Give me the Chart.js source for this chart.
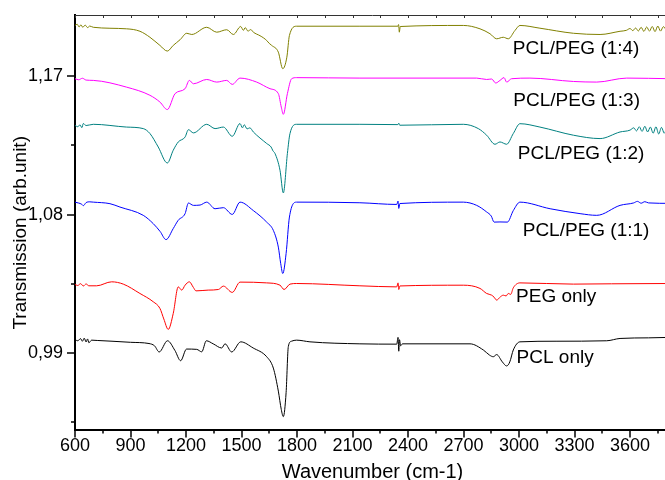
<!DOCTYPE html>
<html>
<head>
<meta charset="utf-8">
<script src="https://cdn.jsdelivr.net/npm/chart.js@4/dist/chart.umd.min.js"></script>
<style>
  body { margin: 0; background: #fff; overflow: hidden; }
  canvas { display: block; }
</style>
</head>
<body>
<canvas id="ftir" width="670" height="480"></canvas>
<script>
// axis ticks
const xTickValues = [600, 900, 1200, 1500, 1800, 2100, 2400, 2700, 3000, 3300, 3600];
const xTickLabels = ['600', '900', '1200', '1500', '1800', '2100', '2400', '2700', '3000', '3300', '3600'];
const xMinorTicks = [750, 1050, 1350, 1650, 1950, 2250, 2550, 2850, 3150, 3450, 3750];
const yTickValues = [0.99, 1.08, 1.17];
const yTickLabels = ['0,99', '1,08', '1,17'];
const yMinorTicks = [0.945, 1.035, 1.125];

// series names
const seriesNames = ['PCL only', 'PEG only', 'PCL/PEG (1:1)', 'PCL/PEG (1:2)', 'PCL/PEG (1:3)', 'PCL/PEG (1:4)'];

// PCL only
const pclWave = [600, 615, 630, 640, 650, 660, 668, 675, 690, 720,
  800, 900, 1000, 1030, 1055, 1100, 1140, 1171, 1203, 1258,
  1285, 1310, 1347, 1393, 1411, 1447, 1496, 1563, 1636, 1672,
  1699, 1715, 1726, 1741, 1753, 1770, 1798, 1870, 2140, 2339,
  2346, 2350, 2354, 2360, 2370, 2735, 2807, 2840, 2861, 2879,
  2910, 2933, 2950, 2969, 3005, 3200, 3474, 3546, 3700, 3816];
const pclT = [0.9985, 0.9978, 0.9992, 0.9975, 0.9995, 0.9970, 0.9990, 0.9965, 0.9982, 0.9980,
  0.9975, 0.9968, 0.9960, 0.9945, 0.9905, 0.9978, 0.9915, 0.9848, 0.9924, 0.9922,
  0.9906, 0.9978, 0.9958, 0.9931, 0.9958, 0.9905, 0.9971, 0.9931, 0.9874, 0.9800,
  0.9650, 0.9530, 0.9484, 0.9640, 0.9940, 0.9975, 0.9982, 0.9971, 0.9958, 0.9956,
  1.0000, 0.9910, 0.9985, 0.9945, 0.9958, 0.9958, 0.9918, 0.9885, 0.9874, 0.9888,
  0.9840, 0.9814, 0.9840, 0.9918, 0.9971, 0.9975, 0.9978, 0.9993, 0.9997, 1.0000];

// PEG only
const pegWave = [600, 615, 630, 645, 660, 675, 717, 798, 861, 951,
  1023, 1059, 1080, 1104, 1131, 1158, 1177, 1195, 1218, 1240,
  1254, 1320, 1375, 1402, 1450, 1492, 1636, 1708, 1730, 1762,
  1798, 2140, 2339, 2346, 2350, 2356, 2699, 2789, 2825, 2852,
  2865, 2879, 2900, 2915, 2930, 2942, 2955, 2969, 3005, 3294,
  3500, 3816];
const pegT = [1.0345, 1.0338, 1.0350, 1.0335, 1.0348, 1.0336, 1.0336, 1.0362, 1.0347, 1.0286,
  1.0232, 1.0189, 1.0120, 1.0052, 1.0156, 1.0329, 1.0308, 1.0340, 1.0362, 1.0325,
  1.0303, 1.0308, 1.0312, 1.0334, 1.0293, 1.0360, 1.0355, 1.0340, 1.0312, 1.0347,
  1.0351, 1.0336, 1.0329, 1.0355, 1.0312, 1.0335, 1.0340, 1.0319, 1.0286, 1.0275,
  1.0262, 1.0243, 1.0265, 1.0275, 1.0270, 1.0286, 1.0280, 1.0323, 1.0355, 1.0347,
  1.0349, 1.0351];

// PCL/PEG (1:1)
const r11Wave = [600, 620, 635, 645, 660, 680, 699, 789, 843, 969,
  1023, 1060, 1092, 1131, 1158, 1195, 1213, 1240, 1276, 1312,
  1357, 1402, 1450, 1492, 1564, 1636, 1672, 1699, 1712, 1723,
  1741, 1759, 1798, 2140, 2339, 2346, 2350, 2356, 2699, 2771,
  2825, 2850, 2865, 2897, 2937, 2969, 3005, 3168, 3330, 3420,
  3546, 3620, 3640, 3660, 3680, 3700, 3816];
const r11T = [1.0881, 1.0875, 1.0868, 1.0858, 1.0878, 1.0883, 1.0881, 1.0871, 1.0849, 1.0795,
  1.0741, 1.0690, 1.0637, 1.0709, 1.0763, 1.0806, 1.0875, 1.0860, 1.0862, 1.0881,
  1.0838, 1.0845, 1.0801, 1.0881, 1.0826, 1.0751, 1.0697, 1.0588, 1.0480, 1.0416,
  1.0546, 1.0784, 1.0881, 1.0877, 1.0866, 1.0888, 1.0840, 1.0872, 1.0881, 1.0860,
  1.0817, 1.0790, 1.0751, 1.0752, 1.0751, 1.0826, 1.0881, 1.0838, 1.0806, 1.0795,
  1.0860, 1.0876, 1.0886, 1.0874, 1.0884, 1.0876, 1.0873];

// PCL/PEG (1:2)
const r12Wave = [600, 615, 627, 637, 645, 660, 699, 879, 969, 1005,
  1050, 1099, 1131, 1158, 1195, 1213, 1240, 1312, 1357, 1402,
  1450, 1492, 1505, 1515, 1530, 1545, 1564, 1636, 1660, 1670,
  1681, 1708, 1726, 1748, 1762, 1798, 2140, 2345, 2350, 2355,
  2699, 2780, 2825, 2870, 2897, 2933, 2969, 3005, 3113, 3294,
  3438, 3546, 3600, 3620, 3635, 3650, 3665, 3680, 3695, 3710,
  3725, 3740, 3755, 3770, 3785, 3800, 3816];
const r12T = [1.1381, 1.1372, 1.1385, 1.1366, 1.1393, 1.1380, 1.1388, 1.1370, 1.1360, 1.1328,
  1.1240, 1.1136, 1.1219, 1.1273, 1.1305, 1.1353, 1.1332, 1.1388, 1.1360, 1.1370,
  1.1310, 1.1393, 1.1365, 1.1385, 1.1358, 1.1365, 1.1338, 1.1263, 1.1240, 1.1215,
  1.1198, 1.1089, 1.0941, 1.1198, 1.1328, 1.1388, 1.1388, 1.1386, 1.1395, 1.1382,
  1.1388, 1.1360, 1.1317, 1.1258, 1.1273, 1.1258, 1.1328, 1.1392, 1.1370, 1.1317,
  1.1295, 1.1338, 1.1350, 1.1365, 1.1345, 1.1372, 1.1342, 1.1375, 1.1338, 1.1370,
  1.1330, 1.1372, 1.1325, 1.1368, 1.1330, 1.1360, 1.1345];

// PCL/PEG (1:3)
const r13Wave = [600, 620, 640, 660, 699, 879, 1005, 1059, 1099, 1141,
  1195, 1218, 1240, 1312, 1366, 1420, 1450, 1492, 1582, 1654,
  1699, 1715, 1726, 1748, 1771, 1798, 2140, 2771, 2825, 2852,
  2874, 2897, 2919, 2933, 2960, 3059, 3294, 3420, 3582, 3816];
const r13T = [1.1685, 1.1678, 1.1688, 1.1676, 1.1674, 1.1630, 1.1577, 1.1533, 1.1484, 1.1588,
  1.1620, 1.1674, 1.1652, 1.1680, 1.1663, 1.1674, 1.1648, 1.1689, 1.1663, 1.1620,
  1.1588, 1.1500, 1.1453, 1.1588, 1.1685, 1.1692, 1.1689, 1.1689, 1.1680, 1.1683,
  1.1657, 1.1674, 1.1692, 1.1663, 1.1685, 1.1689, 1.1667, 1.1663, 1.1689, 1.1685];

// PCL/PEG (1:4)
const r14Wave = [600, 612, 622, 632, 642, 655, 668, 680, 699, 879,
  951, 1005, 1059, 1099, 1131, 1168, 1204, 1231, 1312, 1366,
  1420, 1456, 1496, 1510, 1520, 1535, 1550, 1564, 1600, 1620,
  1636, 1650, 1663, 1699, 1723, 1745, 1759, 1798, 2140, 2345,
  2349, 2353, 2358, 2699, 2789, 2843, 2879, 2915, 2942, 2978,
  3005, 3113, 3294, 3438, 3546, 3580, 3600, 3615, 3630, 3645,
  3660, 3675, 3690, 3705, 3720, 3735, 3750, 3765, 3780, 3800,
  3816];
const r14T = [1.2032, 1.2040, 1.2022, 1.2036, 1.2020, 1.2034, 1.2018, 1.2028, 1.2020, 1.2010,
  1.1994, 1.1955, 1.1902, 1.1865, 1.1902, 1.1939, 1.1981, 1.1973, 1.2020, 1.1988,
  1.2004, 1.1973, 1.2025, 1.2000, 1.2018, 1.1995, 1.2005, 1.1988, 1.1965, 1.1950,
  1.1934, 1.1915, 1.1902, 1.1858, 1.1750, 1.1825, 1.1967, 1.2027, 1.2027, 1.2027,
  1.2038, 1.1988, 1.2025, 1.2032, 1.2010, 1.1978, 1.1945, 1.1955, 1.1945, 1.1999,
  1.2032, 1.2014, 1.1981, 1.1973, 1.1994, 1.2000, 1.2012, 1.1998, 1.2015, 1.1996,
  1.2020, 1.1993, 1.2022, 1.1995, 1.2025, 1.1992, 1.2028, 1.1995, 1.2024, 1.2000,
  1.2015];

const FONT = '"Liberation Sans", Arial, sans-serif';

function pts(wave, t) {
  return wave.map((w, i) => ({ x: w, y: t[i] }));
}

function series(idx, wave, t, color, labelAt) {
  return {
    label: seriesNames[idx],
    data: pts(wave, t),
    borderColor: color,
    borderWidth: 1,
    pointRadius: 0,
    cubicInterpolationMode: 'monotone',
    labelAt: labelAt
  };
}

// draws the names next to each curve, the top frame line and all tick marks
const decorations = {
  id: 'decorations',
  afterDraw(chart) {
    const ctx = chart.ctx;
    const area = chart.chartArea;
    const xs = chart.scales.x;
    const ys = chart.scales.y;
    ctx.save();

    // top frame
    ctx.lineWidth = 1;
    ctx.strokeStyle = '#333';
    ctx.beginPath();
    ctx.moveTo(area.left, area.top + 0.5);
    ctx.lineTo(area.right, area.top + 0.5);
    ctx.stroke();
    xTickValues.concat(xMinorTicks).forEach(v => {
      const px = Math.round(xs.getPixelForValue(v)) + 0.5;
      ctx.beginPath();
      ctx.moveTo(px, area.top);
      ctx.lineTo(px, area.top + 3);
      ctx.stroke();
    });

    // bottom ticks (outside)
    ctx.strokeStyle = '#000';
    ctx.lineWidth = 1.5;
    xTickValues.forEach(v => {
      const px = Math.round(xs.getPixelForValue(v));
      ctx.beginPath();
      ctx.moveTo(px, area.bottom);
      ctx.lineTo(px, area.bottom + 8);
      ctx.stroke();
    });
    xMinorTicks.forEach(v => {
      const px = Math.round(xs.getPixelForValue(v));
      ctx.beginPath();
      ctx.moveTo(px, area.bottom);
      ctx.lineTo(px, area.bottom + 4);
      ctx.stroke();
    });

    // left ticks (outside)
    yTickValues.forEach(v => {
      const py = Math.round(ys.getPixelForValue(v));
      ctx.beginPath();
      ctx.moveTo(area.left, py);
      ctx.lineTo(area.left - 8, py);
      ctx.stroke();
    });
    yMinorTicks.forEach(v => {
      const py = Math.round(ys.getPixelForValue(v));
      ctx.beginPath();
      ctx.moveTo(area.left, py);
      ctx.lineTo(area.left - 4, py);
      ctx.stroke();
    });

    // curve names
    ctx.fillStyle = '#000';
    ctx.font = '19px ' + FONT;
    ctx.textAlign = 'left';
    ctx.textBaseline = 'middle';
    chart.data.datasets.forEach(ds => {
      const px = xs.getPixelForValue(ds.labelAt[0]);
      const py = ys.getPixelForValue(ds.labelAt[1]);
      ctx.fillText(ds.label, px, py);
    });
    ctx.restore();
  }
};

new Chart(document.getElementById('ftir'), {
  type: 'line',
  data: {
    datasets: [
      series(0, pclWave, pclT, '#000000', [2987, 0.9870]),
      series(1, pegWave, pegT, '#ff0000', [2984, 1.0264]),
      series(2, r11Wave, r11T, '#0000ff', [3020, 1.0696]),
      series(3, r12Wave, r12T, '#008080', [2993, 1.1193]),
      series(4, r13Wave, r13T, '#ff00ff', [2969, 1.1544]),
      series(5, r14Wave, r14T, '#808000', [2966, 1.1880])
    ]
  },
  options: {
    responsive: false,
    animation: false,
    layout: { padding: { top: 15, right: 0, bottom: 0, left: 0 } },
    plugins: {
      legend: { display: false },
      tooltip: { enabled: false }
    },
    scales: {
      x: {
        type: 'linear',
        min: 600,
        max: 3816,
        grid: { display: false, drawTicks: false },
        border: { display: true, color: '#000', width: 2 },
        afterBuildTicks: s => { s.ticks = xTickValues.map(v => ({ value: v })); },
        afterFit: s => { s.height = 50.5; s.paddingLeft = 0; s.paddingRight = 0; },
        ticks: {
          autoSkip: false,
          maxRotation: 0,
          padding: 6,
          color: '#000',
          font: { family: FONT, size: 18 },
          callback: (v) => xTickLabels[xTickValues.indexOf(v)]
        },
        title: {
          display: true,
          text: 'Wavenumber (cm-1)',
          color: '#000',
          font: { family: FONT, size: 20, lineHeight: 1 },
          padding: { top: 0, bottom: -2 }
        }
      },
      y: {
        type: 'linear',
        min: 0.94,
        max: 1.21,
        grid: { display: false, drawTicks: false },
        border: { display: true, color: '#000', width: 2 },
        afterBuildTicks: s => { s.ticks = yTickValues.map(v => ({ value: v })); },
        afterFit: s => { s.width = 75; s.paddingTop = 0; s.paddingBottom = 0; },
        ticks: {
          padding: 12,
          color: '#000',
          font: { family: FONT, size: 18 },
          callback: (v) => yTickLabels[yTickValues.indexOf(v)]
        },
        title: {
          display: true,
          // trailing spaces push the centred title a little lower, as in the original
          text: 'Transmission (arb.unit)    ',
          color: '#000',
          font: { family: FONT, size: 19, lineHeight: 1 },
          padding: { top: 11, bottom: 0 }
        }
      }
    }
  },
  plugins: [decorations]
});
</script>
</body>
</html>
